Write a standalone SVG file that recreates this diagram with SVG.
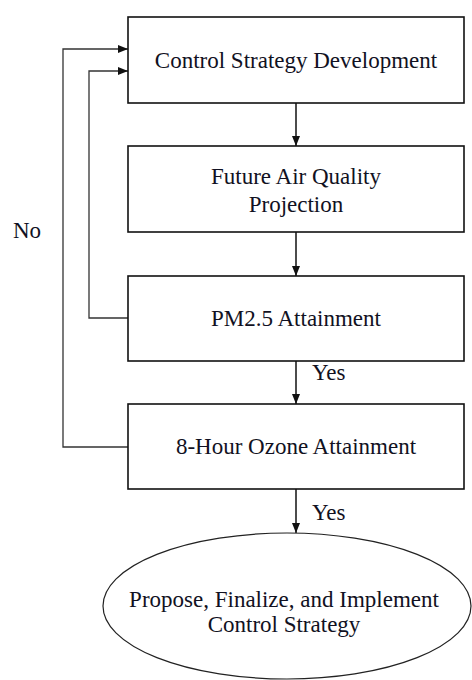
<svg xmlns="http://www.w3.org/2000/svg" width="472" height="680" viewBox="0 0 472 680">
  <style>
    .box { fill: #ffffff; stroke: #111111; stroke-width: 1.6; }
    .term { fill: #ffffff; stroke: #222222; stroke-width: 1.2; }
    .lbl { font-size: 23px; fill: #111122; text-anchor: middle; }
    .note { font-size: 23px; fill: #111122; }
    .flow { fill: none; stroke: #111111; stroke-width: 1.5; }
    .loop { fill: none; stroke: #333333; stroke-width: 1.3; }
  </style>
  <defs>
    <marker id="arrow" viewBox="0 0 10 8" refX="10" refY="4" markerWidth="10" markerHeight="8" markerUnits="userSpaceOnUse" orient="auto">
      <path d="M0,0 L10,4 L0,8 Z" fill="#111111"/>
    </marker>
  </defs>
  <rect width="472" height="680" fill="#ffffff"/>

  <g font-family="'Times New Roman', 'Liberation Serif', Times, serif">
    <!-- connectors -->
    <g id="connectors">
      <line class="flow" x1="296" y1="103" x2="296" y2="146" marker-end="url(#arrow)"/>
      <line class="flow" x1="296" y1="232" x2="296" y2="276" marker-end="url(#arrow)"/>
      <line class="flow" x1="296" y1="361" x2="296" y2="404" marker-end="url(#arrow)"/>
      <line class="flow" x1="296" y1="489" x2="296" y2="533" marker-end="url(#arrow)"/>
      <!-- "No" feedback loops back to strategy development -->
      <polyline class="loop" points="128,447 63,447 63,49 128,49" marker-end="url(#arrow)"/>
      <polyline class="loop" points="128,318 89,318 89,71 128,71" marker-end="url(#arrow)"/>
      <text class="note" x="13" y="238">No</text>
      <text class="note" x="312" y="380">Yes</text>
      <text class="note" x="312" y="520">Yes</text>
    </g>

    <g id="control-strategy-development">
      <rect class="box" x="128" y="17" width="336" height="86"/>
      <text class="lbl" x="296" y="68">Control Strategy Development</text>
    </g>

    <g id="future-air-quality-projection">
      <rect class="box" x="128" y="146" width="336" height="86"/>
      <text class="lbl" x="296" y="184">Future Air Quality</text>
      <text class="lbl" x="296" y="212">Projection</text>
    </g>

    <g id="pm25-attainment">
      <rect class="box" x="128" y="276" width="336" height="85"/>
      <text class="lbl" x="296" y="326">PM2.5 Attainment</text>
    </g>

    <g id="ozone-attainment">
      <rect class="box" x="128" y="404" width="336" height="85"/>
      <text class="lbl" x="296" y="454">8-Hour Ozone Attainment</text>
    </g>

    <g id="implement-control-strategy">
      <ellipse class="term" cx="287" cy="606" rx="184" ry="73"/>
      <text class="lbl" x="284" y="607">Propose, Finalize, and Implement</text>
      <text class="lbl" x="284" y="632">Control Strategy</text>
    </g>
  </g>
</svg>
